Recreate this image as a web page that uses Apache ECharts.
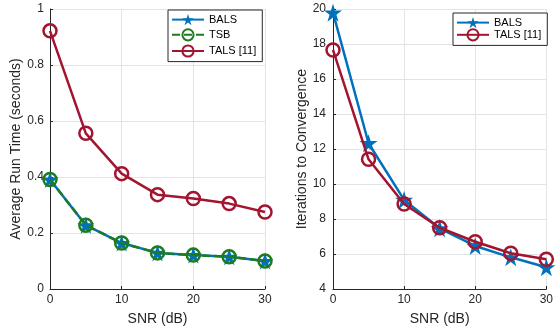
<!DOCTYPE html>
<html><head><meta charset="utf-8">
<script src="https://cdn.jsdelivr.net/npm/echarts@6/dist/echarts.min.js"></script>
<style>html,body{margin:0;padding:0;background:#fff}#c{width:556px;height:332px}</style>
</head><body><div id="c"></div>
<script>
const snr = [0, 5, 10, 15, 20, 25, 30];
const timeBALS = [0.391, 0.228, 0.164, 0.129, 0.121, 0.115, 0.100];
const timeTSB  = [0.391, 0.228, 0.164, 0.129, 0.121, 0.115, 0.100];
const timeTALS = [0.922, 0.556, 0.412, 0.337, 0.323, 0.305, 0.275];
const iterBALS = [19.79, 12.33, 9.09, 7.47, 6.46, 5.81, 5.24];
const iterTALS = [17.66, 11.41, 8.86, 7.50, 6.70, 6.04, 5.70];

const BLUE = '#0072BD', GREEN = '#1E7B1E', RED = '#A2142F';
const STAR = 'path://M50,0 L61.2,34.5 L97.6,34.5 L68.2,55.9 L79.4,90.5 L50,69.1 L20.6,90.5 L31.8,55.9 L2.4,34.5 L38.8,34.5 Z';
const FONT = 'Liberation Sans';
const pair = a => a.map((v, i) => [snr[i], v]);

function xAxis(idx) {
  return {
    gridIndex: idx, type: 'value', min: 0, max: 30, interval: 10,
    name: 'SNR (dB)', nameLocation: 'middle', nameGap: 23,
    nameTextStyle: { fontFamily: FONT, fontSize: 14, color: '#262626' },
    axisLine: { lineStyle: { color: '#262626', width: 1 } },
    axisTick: { inside: true, length: 3, lineStyle: { color: '#262626' } },
    axisLabel: { fontFamily: FONT, fontSize: 12, color: '#262626', margin: 5 },
    splitLine: { show: true, lineStyle: { color: '#e3e3e3', width: 1 } }
  };
}
function yAxis(idx, min, max, interval, name, gap, margin) {
  return {
    gridIndex: idx, type: 'value', min: min, max: max, interval: interval,
    name: name, nameLocation: 'middle', nameGap: gap,
    nameTextStyle: { fontFamily: FONT, fontSize: 14, color: '#262626' },
    axisLine: { show: true, lineStyle: { color: '#262626', width: 1 } },
    axisTick: { show: true, inside: true, length: 3, lineStyle: { color: '#262626' } },
    axisLabel: { fontFamily: FONT, fontSize: 12, color: '#262626', margin: margin },
    splitLine: { show: true, lineStyle: { color: '#e3e3e3', width: 1 } }
  };
}
function series(name, data, xi, color, symbol, size, dashed, z) {
  return {
    name: name, type: 'line', xAxisIndex: xi, yAxisIndex: xi, data: pair(data),
    symbol: symbol, symbolSize: size, showSymbol: true, z: z,
    lineStyle: { color: color, width: 2.5, type: dashed ? [8, 4] : 'solid' },
    itemStyle: symbol === 'circle'
      ? { color: 'rgba(255,255,255,0)', borderColor: color, borderWidth: 2.5 }
      : { color: color, borderColor: color, borderWidth: 0 },
    emphasis: { disabled: true }, animation: false
  };
}
const legendBase = {
  orient: 'vertical', backgroundColor: '#fff', borderColor: '#262626', borderWidth: 1,
  padding: [4, 6, 4, 3], itemWidth: 32, itemHeight: 14,
  textStyle: { fontFamily: FONT, fontSize: 11, color: '#000' }, selectedMode: false
};

const chart = echarts.init(document.getElementById('c'), null, { renderer: 'canvas' });
chart.setOption({
  animation: false,
  textStyle: { fontFamily: FONT },
  grid: [
    { left: 50, right: 291, top: 9, bottom: 43 },
    { left: 333, right: 7, top: 9, bottom: 43 }
  ],
  xAxis: [xAxis(0), xAxis(1)],
  yAxis: [
    yAxis(0, 0, 1, 0.2, 'Average Run Time (seconds)', 27, 6),
    yAxis(1, 4, 20, 2, 'Iterations to Convergence', 22, 7)
  ],
  legend: [
    Object.assign({}, legendBase, { data: ['BALS', 'TSB', 'TALS [11]'], left: 168, top: 10, itemGap: 3 }),
    Object.assign({}, legendBase, { data: ['BALS ', 'TALS [11] '], left: 453, top: 13, itemGap: 0,
      formatter: n => n.trim() })
  ],
  series: [
    series('BALS', timeBALS, 0, BLUE, STAR, 17, false, 2),
    series('TSB', timeTSB, 0, GREEN, 'circle', 13, true, 3),
    series('TALS [11]', timeTALS, 0, RED, 'circle', 13, false, 4),
    series('BALS ', iterBALS, 1, BLUE, STAR, 18, false, 2),
    series('TALS [11] ', iterTALS, 1, RED, 'circle', 13, false, 4)
  ]
});
</script></body></html>
